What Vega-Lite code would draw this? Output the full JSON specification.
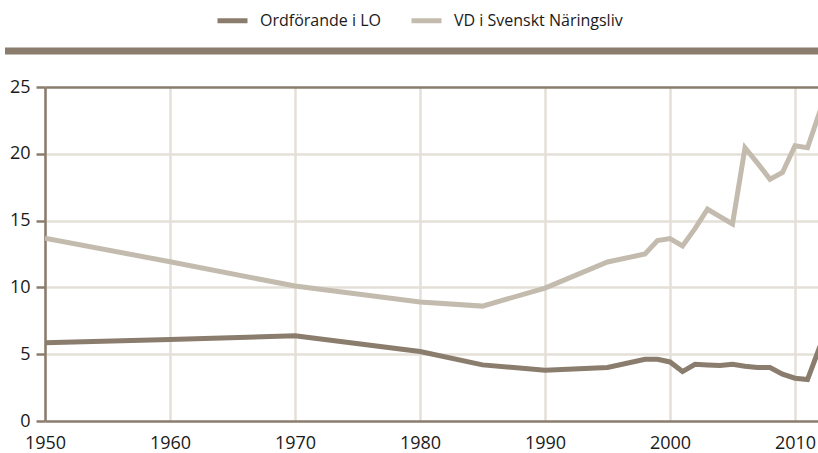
{
  "$schema": "https://vega.github.io/schema/vega-lite/v6.json",
  "width": 773,
  "height": 334,
  "autosize": "none",
  "padding": {"left": 45, "top": 87, "right": 0, "bottom": 32},
  "background": "white",
  "config": {
    "view": {"stroke": null},
    "font": "Open Sans"
  },
  "datasets": {
    "lines": [
      {"year": 1950, "series": "Ordförande i LO", "value": 5.85},
      {"year": 1960, "series": "Ordförande i LO", "value": 6.1},
      {"year": 1970, "series": "Ordförande i LO", "value": 6.38},
      {"year": 1980, "series": "Ordförande i LO", "value": 5.2},
      {"year": 1985, "series": "Ordförande i LO", "value": 4.2},
      {"year": 1990, "series": "Ordförande i LO", "value": 3.8},
      {"year": 1995, "series": "Ordförande i LO", "value": 4.0},
      {"year": 1998, "series": "Ordförande i LO", "value": 4.62},
      {"year": 1999, "series": "Ordförande i LO", "value": 4.62},
      {"year": 2000, "series": "Ordförande i LO", "value": 4.42},
      {"year": 2001, "series": "Ordförande i LO", "value": 3.7},
      {"year": 2002, "series": "Ordförande i LO", "value": 4.25},
      {"year": 2003, "series": "Ordförande i LO", "value": 4.2},
      {"year": 2004, "series": "Ordförande i LO", "value": 4.15},
      {"year": 2005, "series": "Ordförande i LO", "value": 4.25},
      {"year": 2006, "series": "Ordförande i LO", "value": 4.1},
      {"year": 2007, "series": "Ordförande i LO", "value": 4.0},
      {"year": 2008, "series": "Ordförande i LO", "value": 4.0},
      {"year": 2009, "series": "Ordförande i LO", "value": 3.5},
      {"year": 2010, "series": "Ordförande i LO", "value": 3.2},
      {"year": 2011, "series": "Ordförande i LO", "value": 3.1},
      {"year": 2012, "series": "Ordförande i LO", "value": 5.6},
      {"year": 1950, "series": "VD i Svenskt Näringsliv", "value": 13.68},
      {"year": 1960, "series": "VD i Svenskt Näringsliv", "value": 11.92},
      {"year": 1970, "series": "VD i Svenskt Näringsliv", "value": 10.1},
      {"year": 1980, "series": "VD i Svenskt Näringsliv", "value": 8.9},
      {"year": 1985, "series": "VD i Svenskt Näringsliv", "value": 8.6},
      {"year": 1990, "series": "VD i Svenskt Näringsliv", "value": 9.95},
      {"year": 1995, "series": "VD i Svenskt Näringsliv", "value": 11.9},
      {"year": 1998, "series": "VD i Svenskt Näringsliv", "value": 12.5},
      {"year": 1999, "series": "VD i Svenskt Näringsliv", "value": 13.5},
      {"year": 2000, "series": "VD i Svenskt Näringsliv", "value": 13.65},
      {"year": 2001, "series": "VD i Svenskt Näringsliv", "value": 13.1},
      {"year": 2002, "series": "VD i Svenskt Näringsliv", "value": 14.4},
      {"year": 2003, "series": "VD i Svenskt Näringsliv", "value": 15.85},
      {"year": 2004, "series": "VD i Svenskt Näringsliv", "value": 15.3},
      {"year": 2005, "series": "VD i Svenskt Näringsliv", "value": 14.75},
      {"year": 2006, "series": "VD i Svenskt Näringsliv", "value": 20.45},
      {"year": 2007, "series": "VD i Svenskt Näringsliv", "value": 19.3},
      {"year": 2008, "series": "VD i Svenskt Näringsliv", "value": 18.1},
      {"year": 2009, "series": "VD i Svenskt Näringsliv", "value": 18.6},
      {"year": 2010, "series": "VD i Svenskt Näringsliv", "value": 20.6},
      {"year": 2011, "series": "VD i Svenskt Näringsliv", "value": 20.45},
      {"year": 2012, "series": "VD i Svenskt Näringsliv", "value": 23.2}
    ],
    "band": [{"x1": 1946.8, "x2": 2020, "y": 27.7}]
  },
  "layer": [
    {
      "data": {"name": "lines"},
      "mark": {"type": "line", "strokeWidth": 5, "clip": true, "strokeJoin": "miter", "strokeCap": "butt"},
      "encoding": {
        "x": {
          "field": "year", "type": "quantitative",
          "scale": {"domain": [1950, 2011.84], "nice": false, "zero": false},
          "axis": {
            "title": null, "values": [1950, 1960, 1970, 1980, 1990, 2000, 2010],
            "format": "d", "ticks": false, "domain": false, "labelPadding": 13,
            "labelFlush": false, "labelOverlap": false,
            "labelFont": "Open Sans", "labelFontSize": 18, "labelColor": "#1a1a1a",
            "gridColor": "#e4e0d9", "gridWidth": 2.5
          }
        },
        "y": {
          "field": "value", "type": "quantitative",
          "scale": {"domain": [0, 25], "nice": false},
          "axis": {
            "title": null, "values": [0, 5, 10, 15, 20, 25],
            "tickSize": 9, "tickColor": "#8a7d6d", "tickWidth": 2.5,
            "domainColor": "#8a7d6d", "domainWidth": 2.5, "labelPadding": 6,
            "labelFont": "Open Sans", "labelFontSize": 18, "labelColor": "#1a1a1a",
            "gridColor": {"condition": {"test": "datum.value === 25 || datum.value === 0", "value": "#8a7d6d"}, "value": "#e4e0d9"},
            "gridWidth": 2.5
          }
        },
        "color": {
          "field": "series", "type": "nominal",
          "scale": {"domain": ["Ordförande i LO", "VD i Svenskt Näringsliv"], "range": ["#8a7d6d", "#c4bbaf"]},
          "legend": {
            "title": null, "orient": "none", "direction": "horizontal",
            "legendX": 170, "legendY": -84,
            "symbolType": "stroke", "symbolSize": 900, "symbolStrokeWidth": 5,
            "labelFont": "Open Sans", "labelFontSize": 16, "labelColor": "#1a1a1a",
            "labelLimit": 400,
            "labelOffset": 10, "columnPadding": 20
          }
        }
      }
    },
    {
      "data": {"name": "band"},
      "mark": {"type": "rule", "color": "#8a7d6d", "strokeWidth": 7, "clip": false},
      "encoding": {
        "x": {"field": "x1", "type": "quantitative"},
        "x2": {"field": "x2"},
        "y": {"field": "y", "type": "quantitative"}
      }
    }
  ]
}
